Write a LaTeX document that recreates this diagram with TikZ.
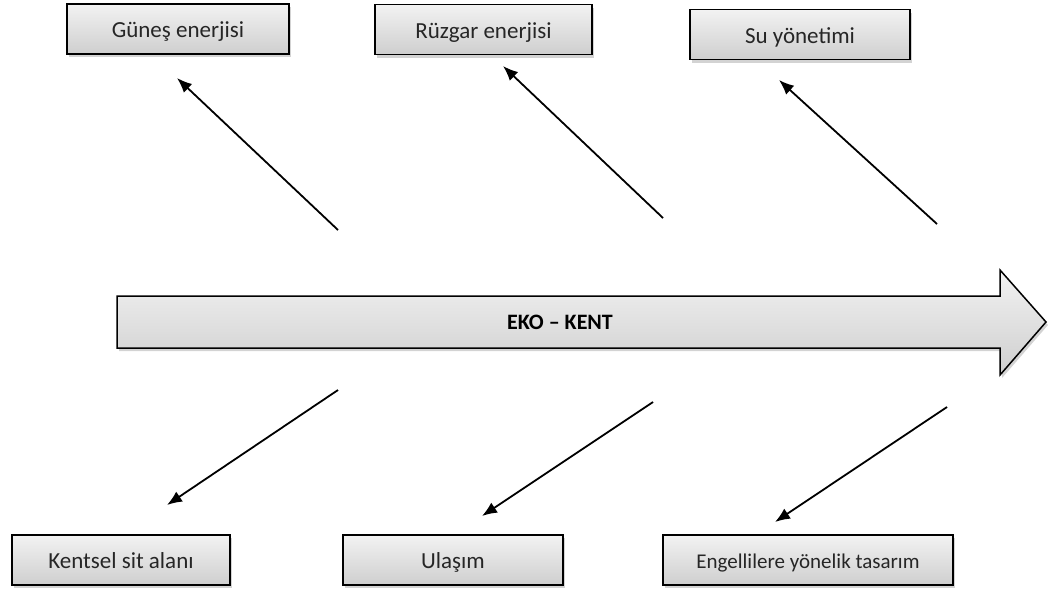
\documentclass[tikz,border=0pt]{standalone}
\usepackage{fontspec}
\setmainfont{Carlito}
\usetikzlibrary{arrows.meta,shadows}

\tikzset{
  kutu/.style={draw=black, line width=1.5pt, top color=gray!10, bottom color=gray!38,
    drop shadow={opacity=0.35, shadow xshift=2pt, shadow yshift=-3pt},
    font=\fontsize{23}{27}\selectfont, text=black!85, inner sep=0pt, minimum height=50,
    text height=19pt, text depth=1.5pt},
  ok/.style={-{Latex[length=15pt,width=12pt]}, line width=1.8pt},
}

\begin{document}
\begin{tikzpicture}[x=1pt, y=-1pt]
  \useasboundingbox (0,0) rectangle (1048,592);

  % ana ok
  \draw[line width=1.5pt, top color=gray!10, bottom color=gray!38,
        drop shadow={opacity=0.35, shadow xshift=2pt, shadow yshift=-3pt}]
    (117,296) -- (1000,296) -- (1000,270) -- (1046,322) -- (1000,375) -- (1000,348) -- (117,348) -- cycle;
  \node[font=\fontsize{22}{26}\selectfont\bfseries] (ekokent) at (560,322) {EKO -- KENT};

  \node[kutu, minimum width=222] (gunes) at (178,29) {Güneş enerjisi};
  \node[kutu, minimum width=217] (ruzgar) at (483.5,29.5) {Rüzgar enerjisi};
  \node[kutu, minimum width=220] (su) at (800,34.5) {Su yönetimi};

  \node[kutu, minimum width=218] (kentsel) at (121,560) {Kentsel sit alanı};
  \node[kutu, minimum width=220] (ulasim) at (453,560) {Ulaşım};
  \node[kutu, minimum width=290, font=\fontsize{21}{25}\selectfont] (engelli) at (808,560) {Engellilere yönelik tasarım};

  % ok uçları
  \coordinate (t1) at (338,230);  \coordinate (h1) at (177,78);
  \coordinate (t2) at (663,218);  \coordinate (h2) at (503,66);
  \coordinate (t3) at (937,224);  \coordinate (h3) at (779,80);
  \coordinate (b1) at (338,390);  \coordinate (k1) at (167,505);
  \coordinate (b2) at (653,402);  \coordinate (k2) at (482,516);
  \coordinate (b3) at (947,407);  \coordinate (k3) at (775,522);

  \foreach \a/\b in {t1/h1, t2/h2, t3/h3, b1/k1, b2/k2, b3/k3} {
    \draw[ok] (\a) -- (\b);
  }
\end{tikzpicture}
\end{document}
